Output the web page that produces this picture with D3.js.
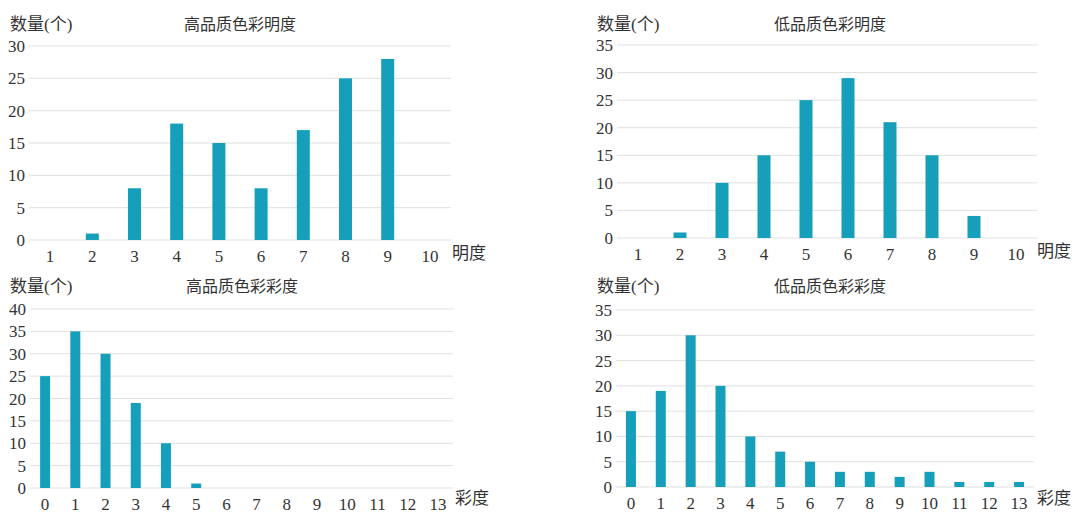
<!DOCTYPE html><html><head><meta charset="utf-8">
<script src="https://cdn.jsdelivr.net/npm/d3@7"></script>
<style>body{margin:0;background:#fff}text{font-family:"Liberation Serif","Noto Sans CJK SC",serif;fill:#333}</style></head><body>
<svg id="c" width="1080" height="517"></svg>
<script>
const brightCats=[1,2,3,4,5,6,7,8,9,10];
const chromaCats=[0,1,2,3,4,5,6,7,8,9,10,11,12,13];
const highBright=[0,1,8,18,15,8,17,25,28,0];
const lowBright=[0,1,10,15,25,29,21,15,4,0];
const highChroma=[25,35,30,19,10,1,0,0,0,0,0,0,0,0];
const lowChroma=[15,19,30,20,10,7,5,3,3,2,3,1,1,1];
const panels=[
 {title:"高品质色彩明度",cats:brightCats,vals:highBright,max:30,x:[29,451],y:[240,46],bw:13,tx:240,ty:30,lx:10,axis:"明度",ax:452,ay:259},
 {title:"低品质色彩明度",cats:brightCats,vals:lowBright,max:35,x:[617,1037],y:[238,45],bw:13,tx:830,ty:30,lx:597,axis:"明度",ax:1037,ay:257},
 {title:"高品质色彩彩度",cats:chromaCats,vals:highChroma,max:40,x:[30,453],y:[488,309],bw:10,tx:242,ty:292,lx:10,axis:"彩度",ax:455,ay:504},
 {title:"低品质色彩彩度",cats:chromaCats,vals:lowChroma,max:35,x:[616,1034],y:[487,310],bw:10,tx:830,ty:292,lx:597,axis:"彩度",ax:1037,ay:504}
];
const svg=d3.select("#c");
panels.forEach(p=>{
 const g=svg.append("g");
 const x=d3.scaleBand().domain(p.cats).range(p.x);
 const y=d3.scaleLinear().domain([0,p.max]).range(p.y);
 const ticks=d3.range(0,p.max+1,5);
 g.selectAll(".gl").data(ticks).enter().append("line").attr("x1",p.x[0]).attr("x2",p.x[1])
  .attr("y1",d=>y(d)).attr("y2",d=>y(d)).attr("stroke","#e0e0e0").attr("stroke-width",1);
 g.selectAll(".yt").data(ticks).enter().append("text").attr("x",p.x[0]-4).attr("y",d=>y(d)+6)
  .attr("text-anchor","end").attr("font-size",17).text(d=>d);
 g.selectAll(".xt").data(p.cats).enter().append("text").attr("x",d=>x(d)+x.bandwidth()/2).attr("y",p.y[0]+22)
  .attr("text-anchor","middle").attr("font-size",17).text(d=>d);
 g.selectAll(".b").data(p.vals).enter().append("rect").attr("x",(d,i)=>x(p.cats[i])+x.bandwidth()/2-p.bw/2)
  .attr("width",p.bw).attr("y",d=>y(d)).attr("height",d=>y(0)-y(d)).attr("fill","#169fba");
 g.append("text").attr("x",p.tx).attr("y",p.ty).attr("text-anchor","middle").attr("font-size",16).text(p.title);
 g.append("text").attr("x",p.lx).attr("y",p.ty).attr("font-size",17).text("数量(个)");
 g.append("text").attr("x",p.ax).attr("y",p.ay).attr("font-size",17).text(p.axis);
});
</script></body></html>
